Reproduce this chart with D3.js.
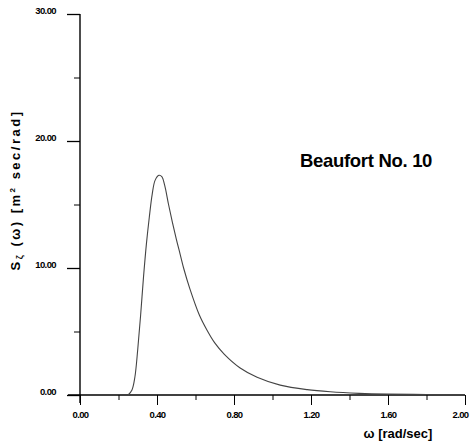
<!DOCTYPE html>
<html><head><meta charset="utf-8">
<script src="https://cdn.jsdelivr.net/npm/d3@7"></script>
<style>body{margin:0;background:#fff}svg{display:block}</style>
</head><body>
<script>
const omega = [0.25,0.27,0.285,0.30,0.315,0.33,0.345,0.36,0.375,0.39,0.41,0.425,0.44,0.46,0.48,0.50,0.52,0.54,0.57,0.62,0.66,0.70,0.75,0.83,0.92,1.04,1.18,1.30,1.45,1.6,1.8,2.0];
const spectrum = [0,0.4,1.4,3.6,6.3,9.3,11.9,14.0,15.8,16.9,17.3,17.2,16.5,15.0,13.6,12.3,11.1,9.9,8.4,6.3,5.1,4.1,3.2,2.15,1.4,0.78,0.42,0.25,0.13,0.07,0.04,0.02];
const xTicks = [0,0.4,0.8,1.2,1.6,2.0];
const xMinor = [0.2,0.6,1.0,1.4,1.8];
const yTicks = [0,10,20,30];
const yMinor = [5,15,25];
const title = "Beaufort No. 10";

const W=470,H=442;
const svg=d3.select("body").append("svg").attr("width",W).attr("height",H);
const x=d3.scaleLinear().domain([0,2]).range([80,465]);
const y=d3.scaleLinear().domain([0,30]).range([395,14]);
const font="Arial, 'Liberation Sans', sans-serif";

// axes lines
svg.append("line").attr("x1",68).attr("x2",x(2)).attr("y1",y(0)).attr("y2",y(0)).attr("stroke","#000").attr("stroke-width",1.6);
svg.append("line").attr("x1",x(0)).attr("x2",x(0)).attr("y1",y(30)).attr("y2",y(0)+8).attr("stroke","#000").attr("stroke-width",1.4);

// y ticks
const yAxis=d3.axisLeft(y).tickValues(yTicks).tickSize(13).tickFormat(d3.format(".2f"));
const gy=svg.append("g").attr("transform",`translate(${x(0)},0)`).call(yAxis);
gy.select(".domain").remove();
gy.selectAll("line").attr("stroke","#000").attr("stroke-width",1.3);
gy.selectAll("text").attr("font-family",font).attr("font-weight","bold").attr("font-size",9.5).attr("dx",-8).attr("dy","-0.1em").attr("letter-spacing",-0.6);
const gym=svg.append("g").attr("transform",`translate(${x(0)},0)`).call(d3.axisLeft(y).tickValues(yMinor).tickSize(6).tickFormat(""));
gym.select(".domain").remove();
gym.selectAll("line").attr("stroke","#000");

// x ticks
const xAxis=d3.axisBottom(x).tickValues(xTicks).tickSize(10).tickFormat(d3.format(".2f"));
const gx=svg.append("g").attr("transform",`translate(0,${y(0)})`).call(xAxis);
gx.select(".domain").remove();
gx.selectAll("line").attr("stroke","#000").attr("stroke-width",1);
gx.selectAll("text").attr("font-family",font).attr("font-weight","bold").attr("font-size",9.5).attr("dy","1.1em").attr("letter-spacing",-0.6)
  .attr("dx",(d,i,n)=> i===n.length-1 ? -5 : 0);
const gxm=svg.append("g").attr("transform",`translate(0,${y(0)})`).call(d3.axisBottom(x).tickValues(xMinor).tickSize(5).tickFormat(""));
gxm.select(".domain").remove();
gxm.selectAll("line").attr("stroke","#000");

// curve
const data=omega.map((w,i)=>[w,spectrum[i]]);
svg.append("path").datum(data)
  .attr("d",d3.line().x(d=>x(d[0])).y(d=>y(d[1])).curve(d3.curveCatmullRom.alpha(0.5)))
  .attr("fill","none").attr("stroke","#444").attr("stroke-width",1.1);

// title
svg.append("text").attr("x",366).attr("y",167).attr("text-anchor","middle")
  .attr("font-family",font).attr("font-weight","bold").attr("font-size",18.5).attr("letter-spacing",-0.3).text(title);

// x label
svg.append("text").attr("x",398).attr("y",438).attr("text-anchor","middle")
  .attr("font-family",font).attr("font-weight","bold").attr("font-size",13)
  .text("ω [rad/sec]");

// y label
const yl=svg.append("text").attr("transform","translate(20,190) rotate(-90)").attr("text-anchor","middle")
  .attr("font-family",font).attr("font-weight","bold").attr("font-size",13).attr("letter-spacing",2.5);
yl.append("tspan").text("S");
yl.append("tspan").attr("font-size",9).attr("dy",3).text("ζ");
yl.append("tspan").attr("dy",-3).text(" (ω)    [m");
yl.append("tspan").attr("font-size",8).attr("dy",-5).text("2");
yl.append("tspan").attr("dy",5).text(" sec/rad]");
</script>
</body></html>
